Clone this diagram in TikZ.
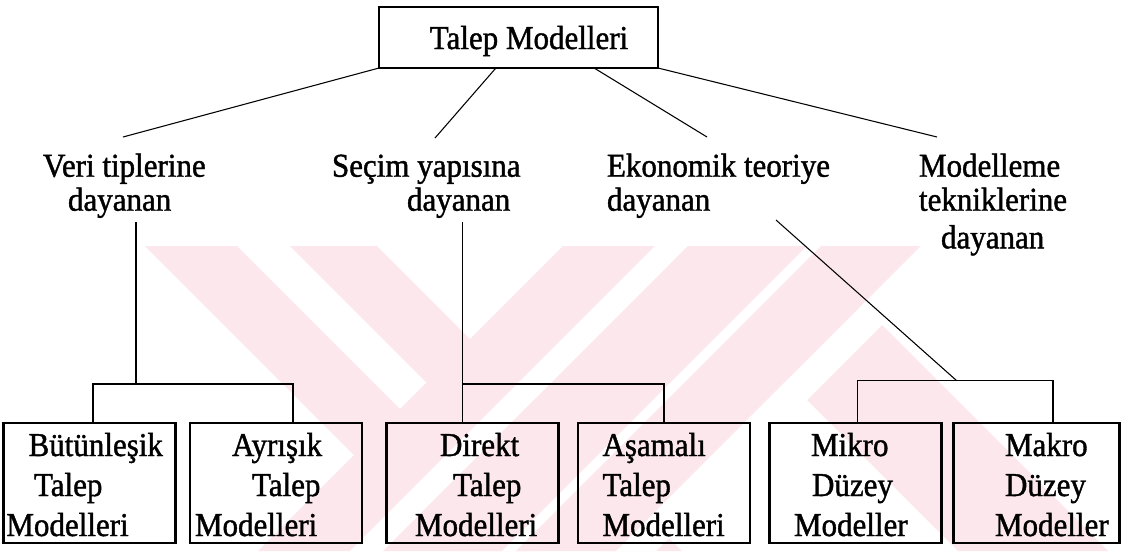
\documentclass[tikz,border=0pt]{standalone}
\usepackage{fontspec}
\setmainfont{Liberation Serif}[FakeBold=1.2,FakeStretch=0.93]
\usetikzlibrary{calc}
\definecolor{wm}{RGB}{252,232,236}
\begin{document}
\begin{tikzpicture}[x=0.75pt,y=-0.75pt,
  every node/.style={inner sep=0pt,outer sep=0pt},
  lbl/.style={anchor=base west,font=\fontsize{25}{25.5}\selectfont},
  boxtxt/.style={anchor=base west,font=\fontsize{25}{30}\selectfont},
  box/.style={draw,line width=2.2pt,minimum width=129pt,minimum height=90pt},
  topbox/.style={draw,line width=2.2pt,minimum width=209.25pt,minimum height=45.75pt,
    font=\fontsize{25}{28}\selectfont,text height=17.25pt,text depth=0pt},
  conn/.style={line width=1pt},
  diag/.style={line width=0.8pt},
  band/.style={fill=wm},
  gap/.style={fill=white}]
\useasboundingbox (0,0) rectangle (1123,551);
\fill[white] (0,0) rectangle (1123,551);
% faint watermark
\begin{scope}
  \clip (0,246) rectangle (1123,551);
  \fill[band] (653,246) -- (803,246) -- (1108,551) -- (958,551) -- cycle;
  \fill[band] (145,246) -- (237,246) -- (542,551) -- (450,551) -- cycle;
  \fill[band] (290,246) -- (377,246) -- (682,551) -- (595,551) -- cycle;
  \fill[band] (563,246) -- (655,246) -- (350,551) -- (258,551) -- cycle;
  \fill[gap]  (655,246) -- (688,246) -- (383,551) -- (350,551) -- cycle;
  \fill[band] (688,246) -- (807,246) -- (502,551) -- (383,551) -- cycle;
  \fill[gap]  (807,246) -- (821,246) -- (516,551) -- (502,551) -- cycle;
  \fill[band] (821,246) -- (921,246) -- (616,551) -- (516,551) -- cycle;
  \fill[gap]  (921,246) -- (961,246) -- (656,551) -- (616,551) -- cycle;
\end{scope}
% top box
\node[topbox] (top) at (518.5,37.5) {\hspace*{15.75pt}Talep Modelleri};
% second level labels
\node[lbl] (L1) at (43,176.7) {\begin{tabular}[t]{@{}l@{}}Veri tiplerine\\\hspace*{18.75pt}dayanan\end{tabular}};
\node[lbl] (L2) at (332,176.7) {\begin{tabular}[t]{@{}l@{}}Seçim yapısına\\\hspace*{56.25pt}dayanan\end{tabular}};
\node[lbl] (L3) at (607,176.7) {\begin{tabular}[t]{@{}l@{}}Ekonomik teoriye\\dayanan\end{tabular}};
\node[lbl] (L4) at (919,176.7) {\begin{tabular}[t]{@{}l@{}}Modelleme\\tekniklerine\\[2.7pt]\hspace*{16.5pt}dayanan\end{tabular}};
% bottom boxes
\node[box] (b1) at (89.5,483) {};
\node[box] (b2) at (276,483) {};
\node[box] (b3) at (472.5,483) {};
\node[box] (b4) at (664,483) {};
\node[box] (b5) at (855.5,483) {};
\node[box,minimum width=124pt] (b6) at (1036.5,483) {};
\node[boxtxt] (t1) at (6.4,456) {\begin{tabular}[t]{@{}l@{}}\hspace*{16.65pt}Bütünleşik\\\hspace*{20.7pt}Talep\\Modelleri\end{tabular}};
\node[boxtxt] (t2) at (195,456) {\begin{tabular}[t]{@{}l@{}}\hspace*{27.75pt}Ayrışık\\\hspace*{42.75pt}Talep\\Modelleri\end{tabular}};
\node[boxtxt] (t3) at (415,456) {\begin{tabular}[t]{@{}l@{}}\hspace*{18.75pt}Direkt\\\hspace*{28.5pt}Talep\\Modelleri\end{tabular}};
\node[boxtxt] (t4) at (602.5,456) {\begin{tabular}[t]{@{}l@{}}Aşamalı\\Talep\\Modelleri\end{tabular}};
\node[boxtxt] (t5) at (794,456) {\begin{tabular}[t]{@{}l@{}}\hspace*{12.75pt}Mikro\\\hspace*{13.5pt}Düzey\\Modeller\end{tabular}};
\node[boxtxt] (t6) at (995,456) {\begin{tabular}[t]{@{}l@{}}\hspace*{7.5pt}Makro\\\hspace*{7.5pt}Düzey\\Modeller\end{tabular}};
% connectors from the top box
\coordinate (e1) at (123,137);
\coordinate (e2) at (435,138);
\coordinate (e3) at (707,137);
\coordinate (e4) at (937,137);
\draw[diag] (top.south west) -- (e1);
\draw[diag] ($(top.south west)!0.419!(top.south east)$) -- (e2);
\draw[diag] ($(top.south west)!0.771!(top.south east)$) -- (e3);
\draw[diag] (top.south east) -- (e4);
% lower connectors
\coordinate (v1) at (136,222);
\coordinate (j1) at (136,384);
\draw[conn] (v1) -- (j1);
\draw[conn] ([xshift=2.6pt]b1.north) |- (j1) -| ([xshift=12.75pt]b2.north);
\coordinate (v2) at (462.7,222);
\coordinate (j2) at (462.7,384);
\draw[conn] (v2) -- ([xshift=-7.35pt]b3.north);
\draw[conn] (j2) -| (b4.north);
\coordinate (v3) at (776,220);
\coordinate (j3) at (956.7,380.7);
\draw[diag] (v3) -- (j3);
\draw[conn] ([xshift=1.65pt]b5.north) |- (j3) -| ([xshift=12.4pt]b6.north);
\end{tikzpicture}
\end{document}
